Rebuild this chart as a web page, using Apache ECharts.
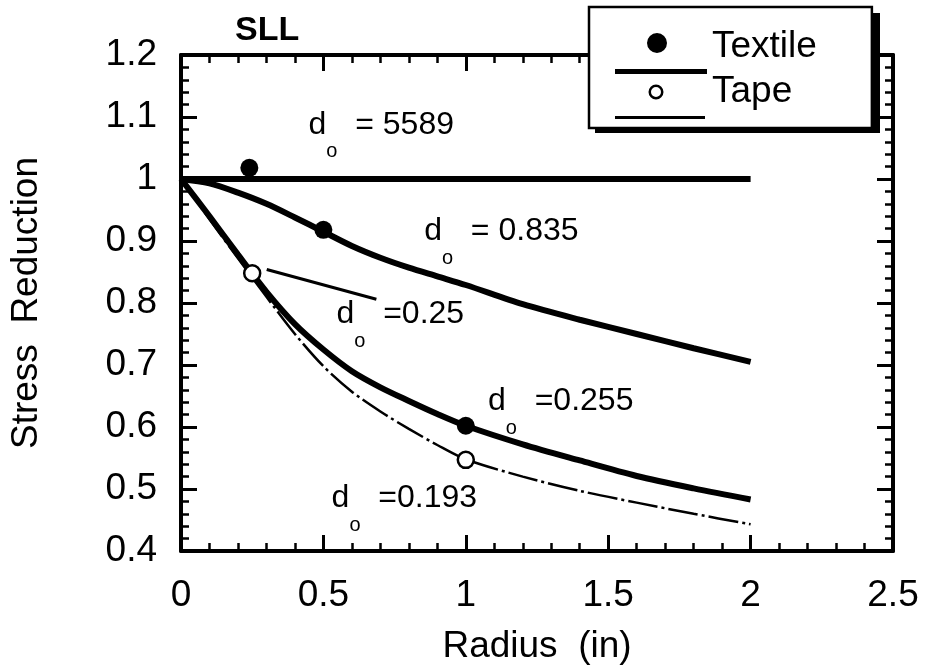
<!DOCTYPE html>
<html><head><meta charset="utf-8">
<script src="https://cdn.jsdelivr.net/npm/echarts@6/dist/echarts.min.js"></script>
<style>html,body{margin:0;padding:0;background:#fff}#c{width:925px;height:670px}</style>
</head><body><div id="c"></div>
<script>
// ---- data ----
const xTickLabels = ['0', '0.5', '1', '1.5', '2', '2.5'];
const yTickLabels = ['0.4', '0.5', '0.6', '0.7', '0.8', '0.9', '1', '1.1', '1.2'];

const rGrid   = [0, 0.1, 0.2, 0.3, 0.4, 0.5, 0.6, 0.7, 0.8, 0.9, 1.0, 1.2, 1.4, 1.6, 1.8, 2.0];
const sr0835  = [1.0, 0.993, 0.978, 0.96, 0.938, 0.915, 0.892, 0.873, 0.857, 0.843, 0.829, 0.798, 0.773, 0.75, 0.727, 0.705];
const sr0255  = [1.0, 0.94, 0.878, 0.818, 0.766, 0.725, 0.69, 0.664, 0.642, 0.621, 0.602, 0.572, 0.546, 0.521, 0.501, 0.483];
const sr0193  = [1.0, 0.935, 0.872, 0.81, 0.75, 0.698, 0.657, 0.625, 0.597, 0.571, 0.548, 0.52, 0.497, 0.478, 0.46, 0.443];

const r5589   = [0, 2.0];
const sr5589  = [1.0, 1.0];

const textileR  = [0.24, 0.5, 1.0];
const textileSR = [1.018, 0.918, 0.602];
const tapeR     = [0.25, 1.0];
const tapeSR    = [0.848, 0.547];

const ptrR  = [0.301, 0.686];
const ptrSR = [0.854, 0.806];

const annR   = [0.448, 0.854, 0.546, 1.078, 0.529];
const annSR  = [1.113, 0.941, 0.808, 0.667, 0.511];
const annVal = ['  = 5589', '  = 0.835', '  =0.25', '  =0.255', '  =0.193'];

// ---- chart ----
const FF = 'Liberation Sans, Arial, Helvetica, sans-serif';
const zip = (a, b) => a.map((v, i) => [v, b[i]]);
const chart = echarts.init(document.getElementById('c'), null, {renderer: 'canvas'});

function xAxisDef(pos, showLabel) {
  return {
    type: 'value', min: 0, max: 2.5, interval: 0.5, position: pos,
    axisLine: {show: true, onZero: false, lineStyle: {color: '#000', width: 4}},
    axisTick: {show: true, inside: true, length: 16, lineStyle: {color: '#000', width: 3}},
    minorTick: {show: true, splitNumber: 5, length: 8, lineStyle: {color: '#000', width: 2.5}},
    splitLine: {show: false}, minorSplitLine: {show: false},
    axisLabel: showLabel ? {
      show: true, fontSize: 37, color: '#000', margin: 26, fontFamily: FF,
      formatter: (v) => xTickLabels[Math.round(v / 0.5)]
    } : {show: false},
    name: showLabel ? 'Radius  (in)' : '', nameLocation: 'middle', nameGap: 77,
    nameTextStyle: {fontSize: 37, color: '#000', fontFamily: FF}
  };
}
function yAxisDef(pos, showLabel) {
  return {
    type: 'value', min: 0.4, max: 1.2, interval: 0.1, position: pos,
    axisLine: {show: true, onZero: false, lineStyle: {color: '#000', width: 4}},
    axisTick: {show: true, inside: true, length: 16, lineStyle: {color: '#000', width: 3}},
    minorTick: {show: true, splitNumber: 5, length: 8, lineStyle: {color: '#000', width: 2.5}},
    splitLine: {show: false}, minorSplitLine: {show: false},
    axisLabel: showLabel ? {
      show: true, fontSize: 37, color: '#000', margin: 24, fontFamily: FF,
      formatter: (v) => yTickLabels[Math.round((v - 0.4) / 0.1)]
    } : {show: false},
    name: showLabel ? 'Stress  Reduction' : '', nameLocation: 'middle', nameGap: 136,
    nameTextStyle: {fontSize: 37, color: '#000', fontFamily: FF}
  };
}

const option = {
  animation: false,
  backgroundColor: '#fff',
  title: {
    text: 'SLL', left: 235, top: 14, padding: 0,
    textStyle: {fontSize: 34, fontWeight: 'bold', color: '#000', fontFamily: FF, lineHeight: 34}
  },
  grid: {left: 179, right: 32, top: 55, bottom: 111, containLabel: false},
  xAxis: [xAxisDef('bottom', true), xAxisDef('top', false)],
  yAxis: [yAxisDef('left', true), yAxisDef('right', false)],
  graphic: [
    {type: 'rect', z: 3, silent: true, shape: {x: 595, y: 13, width: 285, height: 120},
      style: {fill: '#000'}}
  ],
  legend: {
    orient: 'vertical', left: 589, top: 7, z: 5,
    padding: [13, 55, 9, 26], itemGap: -9, itemWidth: 92, itemHeight: 54,
    selectedMode: false,
    backgroundColor: '#fff', borderColor: '#000', borderWidth: 2.5, borderRadius: 0,
    itemStyle: {color: '#000', borderWidth: 0, opacity: 1},
    textStyle: {fontSize: 37, color: '#000', fontFamily: FF, lineHeight: 40},
    data: [
      {name: 'Textile', icon: 'path://M0,0L92,0L92,0.01L0,0.01ZM32,23A10,10,0,1,1,52,23A10,10,0,1,1,32,23ZM0,49L92,49L92,54L0,54Z'},
      {name: 'Tape', icon: 'path://M0,0L92,0L92,0.01L0,0.01ZM33.5,27A7.5,7.5,0,1,1,48.5,27A7.5,7.5,0,1,1,33.5,27ZM36,27A5,5,0,1,0,46,27A5,5,0,1,0,36,27ZM0,51L90,51L90,54L0,54Z'}
    ]
  },
  series: [
    {type: 'line', name: 'd5589', data: zip(r5589, sr5589), symbol: 'none',
      lineStyle: {color: '#000', width: 6}, silent: true},
    {type: 'line', name: 'd0835', data: zip(rGrid, sr0835), symbol: 'none', smooth: 0.3,
      lineStyle: {color: '#000', width: 6}, silent: true},
    {type: 'line', name: 'd0255', data: zip(rGrid, sr0255), symbol: 'none', smooth: 0.3,
      lineStyle: {color: '#000', width: 6}, silent: true},
    {type: 'line', name: 'd0193', data: zip(rGrid, sr0193), symbol: 'none', smooth: 0.3,
      lineStyle: {color: '#000', width: 2.5, type: [30, 4, 3, 4]}, silent: true},
    {type: 'line', name: 'pointer', data: zip(ptrR, ptrSR), symbol: 'none',
      lineStyle: {color: '#000', width: 3}, silent: true},
    {type: 'scatter', name: 'Textile', data: zip(textileR, textileSR), symbol: 'circle', symbolSize: 18,
      itemStyle: {color: '#000', opacity: 1}, z: 5},
    {type: 'scatter', name: 'Tape', data: zip(tapeR, tapeSR), symbol: 'circle', symbolSize: 16,
      itemStyle: {color: '#fff', borderColor: '#000', borderWidth: 2.5, opacity: 1}, z: 5},
    {type: 'scatter', name: 'ann', data: zip(annR, annSR), symbolSize: 0.1, silent: true,
      itemStyle: {color: 'rgba(0,0,0,0)', opacity: 1}, z: 6,
      label: {
        show: true, position: [0, 0], align: 'left', verticalAlign: 'top', color: '#000', opacity: 1,
        formatter: (p) => '{d|d}{o|o}{t|' + annVal[p.dataIndex] + '}',
        rich: {
          d: {fontSize: 32, lineHeight: 40, verticalAlign: 'top', fontFamily: FF, color: '#000'},
          o: {fontSize: 20, lineHeight: 86, verticalAlign: 'middle', fontFamily: FF, color: '#000'},
          t: {fontSize: 32, lineHeight: 40, verticalAlign: 'top', fontFamily: FF, color: '#000'}
        }
      }
    }
  ]
};
chart.setOption(option);
</script></body></html>
